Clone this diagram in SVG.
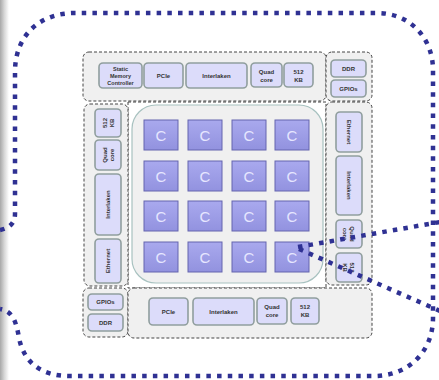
<svg xmlns="http://www.w3.org/2000/svg" width="439" height="380" viewBox="0 0 439 380">
<defs>
<linearGradient id="edge" x1="0" y1="0" x2="1" y2="0">
<stop offset="0" stop-color="#a8a8a8"/>
<stop offset="0.5" stop-color="#d8d8d8"/>
<stop offset="1" stop-color="#ffffff"/>
</linearGradient>
<linearGradient id="cg" x1="0" y1="0" x2="0" y2="1">
<stop offset="0" stop-color="#a9a9ee"/>
<stop offset="1" stop-color="#9292df"/>
</linearGradient>
</defs>
<style>
.reg{fill:#f0f0f0;stroke:#444;stroke-width:1;stroke-dasharray:3 2}
.ctr{fill:#ffffff;stroke:#444;stroke-width:1;stroke-dasharray:3 2}
.box{fill:#dcdcfa;stroke:#909e9e;stroke-width:1.6}
.lb{font-family:"Liberation Sans",Arial,sans-serif;font-weight:bold;font-size:6px;fill:#333;text-anchor:middle}
.c{fill:url(#cg);stroke:#6464ae;stroke-width:1}
.ct{font-family:"Liberation Sans",Arial,sans-serif;font-size:15px;fill:#e6e6ff;text-anchor:middle}
.dot{fill:none;stroke:#2f3193;stroke-width:4.5;stroke-dasharray:4.5 6.2}
</style>
<rect x="0" y="0" width="439" height="380" fill="#ffffff"/>
<rect x="0" y="0" width="9" height="380" fill="url(#edge)"/>

<g id="chip">
<rect class="ctr" x="128" y="102" width="198" height="186"/>
<rect class="reg" x="83" y="52" width="243" height="49" rx="6"/>
<rect class="reg" x="326" y="52" width="46" height="49" rx="6"/>
<rect class="reg" x="84" y="104" width="44" height="182" rx="6"/>
<rect class="reg" x="326" y="102" width="46" height="183" rx="6"/>
<rect class="reg" x="83" y="288" width="45" height="49" rx="6"/>
<rect class="reg" x="128" y="288" width="244" height="50" rx="6"/>
<rect x="132" y="105" width="191" height="178" rx="24" fill="#f0f0f0" stroke="#a8c2c0" stroke-width="1.2"/>
</g>

<g id="top-smc"><rect class="box" x="99" y="63" width="43" height="25" rx="4"/><text class="lb" x="120.5" y="70.5" style="font-size:5.5px">Static</text><text class="lb" x="120.5" y="77.5" style="font-size:5.5px">Memory</text><text class="lb" x="120.5" y="84.5" style="font-size:5.5px">Controller</text></g>
<g id="top-pcie"><rect class="box" x="144" y="63" width="39" height="25" rx="4"/><text class="lb" x="163.5" y="77.5">PCIe</text></g>
<g id="top-interlaken"><rect class="box" x="186" y="63" width="61" height="25" rx="4"/><text class="lb" x="216.5" y="77.5">Interlaken</text></g>
<g id="top-quad"><rect class="box" x="251" y="63" width="31" height="24" rx="4"/><text class="lb" x="266.5" y="73.5">Quad</text><text class="lb" x="266.5" y="81.5">core</text></g>
<g id="top-512"><rect class="box" x="284" y="63" width="29" height="24" rx="4"/><text class="lb" x="298.5" y="73.5">512</text><text class="lb" x="298.5" y="81.5">KB</text></g>
<g id="tr-ddr"><rect class="box" x="331" y="60" width="35" height="17" rx="4"/><text class="lb" x="348.5" y="70.5">DDR</text></g>
<g id="tr-gpios"><rect class="box" x="331" y="80" width="35" height="17" rx="4"/><text class="lb" x="348.5" y="90.5">GPIOs</text></g>

<g id="left-512"><rect class="box" x="95" y="109" width="26" height="28" rx="4"/><text class="lb" transform="translate(108,123) rotate(-90)" x="0" y="-1">512</text><text class="lb" transform="translate(108,123) rotate(-90)" x="0" y="6">KB</text></g>
<g id="left-quad"><rect class="box" x="95" y="140" width="26" height="30" rx="4"/><text class="lb" transform="translate(108,155) rotate(-90)" x="0" y="-1">Quad</text><text class="lb" transform="translate(108,155) rotate(-90)" x="0" y="6">core</text></g>
<g id="left-interlaken"><rect class="box" x="95" y="174" width="26" height="61" rx="4"/><text class="lb" transform="translate(108,204.5) rotate(-90)" x="0" y="2">Interlaken</text></g>
<g id="left-ethernet"><rect class="box" x="95" y="239" width="26" height="44" rx="4"/><text class="lb" transform="translate(108,261) rotate(-90)" x="0" y="2">Ethernet</text></g>

<g id="right-ethernet"><rect class="box" x="336" y="112" width="26" height="40" rx="4"/><text class="lb" transform="translate(349,132) rotate(90)" x="0" y="2">Ethernet</text></g>
<g id="right-interlaken"><rect class="box" x="336" y="156" width="26" height="59" rx="4"/><text class="lb" transform="translate(349,185.5) rotate(90)" x="0" y="2">Interlaken</text></g>
<g id="right-quad"><rect class="box" x="336" y="220" width="26" height="28" rx="4"/><text class="lb" transform="translate(349,234) rotate(90)" x="0" y="-1">Quad</text><text class="lb" transform="translate(349,234) rotate(90)" x="0" y="6">core</text></g>
<g id="right-512"><rect class="box" x="336" y="253" width="26" height="29" rx="4"/><text class="lb" transform="translate(349,267.5) rotate(90)" x="0" y="-1">512</text><text class="lb" transform="translate(349,267.5) rotate(90)" x="0" y="6">KB</text></g>

<g id="bl-gpios"><rect class="box" x="88" y="294" width="35" height="16" rx="4"/><text class="lb" x="105.5" y="304">GPIOs</text></g>
<g id="bl-ddr"><rect class="box" x="88" y="314" width="35" height="17" rx="4"/><text class="lb" x="105.5" y="324.5">DDR</text></g>
<g id="bot-pcie"><rect class="box" x="149" y="298" width="39" height="27" rx="4"/><text class="lb" x="168.5" y="313.5">PCIe</text></g>
<g id="bot-interlaken"><rect class="box" x="193" y="298" width="61" height="27" rx="4"/><text class="lb" x="223.5" y="313.5">Interlaken</text></g>
<g id="bot-quad"><rect class="box" x="257" y="298" width="30" height="26" rx="4"/><text class="lb" x="272" y="309">Quad</text><text class="lb" x="272" y="317">core</text></g>
<g id="bot-512"><rect class="box" x="291" y="298" width="28" height="26" rx="4"/><text class="lb" x="305" y="309">512</text><text class="lb" x="305" y="317">KB</text></g>

<g id="cores">
<g id="c11"><rect class="c" x="144" y="120" width="34" height="30"/><text class="ct" x="161" y="140.5">C</text></g>
<g id="c12"><rect class="c" x="188" y="120" width="34" height="30"/><text class="ct" x="205" y="140.5">C</text></g>
<g id="c13"><rect class="c" x="232" y="120" width="34" height="30"/><text class="ct" x="249" y="140.5">C</text></g>
<g id="c14"><rect class="c" x="275" y="120" width="34" height="30"/><text class="ct" x="292" y="140.5">C</text></g>
<g id="c21"><rect class="c" x="144" y="161" width="34" height="30"/><text class="ct" x="161" y="181.5">C</text></g>
<g id="c22"><rect class="c" x="188" y="161" width="34" height="30"/><text class="ct" x="205" y="181.5">C</text></g>
<g id="c23"><rect class="c" x="232" y="161" width="34" height="30"/><text class="ct" x="249" y="181.5">C</text></g>
<g id="c24"><rect class="c" x="275" y="161" width="34" height="30"/><text class="ct" x="292" y="181.5">C</text></g>
<g id="c31"><rect class="c" x="144" y="201" width="34" height="30"/><text class="ct" x="161" y="221.5">C</text></g>
<g id="c32"><rect class="c" x="188" y="201" width="34" height="30"/><text class="ct" x="205" y="221.5">C</text></g>
<g id="c33"><rect class="c" x="232" y="201" width="34" height="30"/><text class="ct" x="249" y="221.5">C</text></g>
<g id="c34"><rect class="c" x="275" y="201" width="34" height="30"/><text class="ct" x="292" y="221.5">C</text></g>
<g id="c41"><rect class="c" x="144" y="242" width="34" height="30"/><text class="ct" x="161" y="262.5">C</text></g>
<g id="c42"><rect class="c" x="188" y="242" width="34" height="30"/><text class="ct" x="205" y="262.5">C</text></g>
<g id="c43"><rect class="c" x="232" y="242" width="34" height="30"/><text class="ct" x="249" y="262.5">C</text></g>
<g id="c44"><rect class="c" x="275" y="242" width="34" height="30"/><text class="ct" x="292" y="262.5">C</text></g>
</g>

<g id="connectors">
<path class="dot" d="M 0,230 Q 15,227 15,214 L 15,72 C 15,35 40,13 75,13 L 377,13 C 410,13 433,38 433,70 L 433,318 C 433,352 408,376 374,376 L 70,376 C 40,376 24,362 19,338 C 16,320 12,311 0,309"/>
<path class="dot" d="M 298,247 L 440,222"/>
<path class="dot" d="M 299,249 L 440,311"/>
</g>
</svg>
